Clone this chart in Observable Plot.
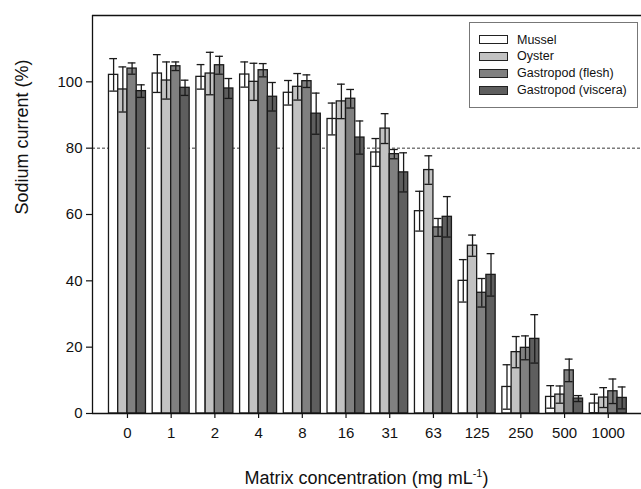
<!DOCTYPE html>
<html>
<head>
<meta charset="utf-8">
<script src="https://cdn.jsdelivr.net/npm/d3@7"></script>
<script src="https://cdn.jsdelivr.net/npm/@observablehq/plot@0.6"></script>
<style>
  html, body { margin: 0; padding: 0; background: #fff; }
  #wrap { position: relative; width: 641px; height: 489px; font-family: "Liberation Sans", Arial, sans-serif; }
  #xtitle { position: absolute; left: 92px; width: 549px; top: 468px; text-align: center; font-size: 18px; color: #111; }
  #xtitle sup { font-size: 11px; vertical-align: 0; position: relative; top: -7px; }
  #legend { position: absolute; left: 469px; top: 22px; width: 167px; height: 84px; border: 1px solid #777; background: #fff; font-size: 12.5px; color: #111; }
  .row { position: absolute; left: 9px; height: 17px; display: flex; align-items: center; }
  .sw { width: 27px; height: 7px; border: 1px solid #222; margin-right: 9px; }
</style>
</head>
<body>
<div id="wrap"></div>
<script>
const concentrations = ["0","1","2","4","8","16","31","63","125","250","500","1000"];
const seriesNames = ["Mussel","Oyster","Gastropod (flesh)","Gastropod (viscera)"];
const seriesColors = ["#ffffff","#c2c2c2","#808080","#5e5e5e"];
const mussel    = [102.1,102.5,101.5,102.2,96.7,88.8,78.7,61.0,40.0,8.0,5.0,3.0];
const musselSD  = [4.9,5.7,3.7,3.8,3.7,4.8,4.2,6.0,6.4,6.7,3.4,2.8];
const oyster    = [97.7,100.4,102.5,100.0,98.5,94.1,85.9,73.4,50.6,18.5,5.7,4.8];
const oysterSD  = [6.8,5.6,6.4,5.6,4.0,5.2,4.5,4.3,3.2,4.7,2.6,3.0];
const flesh     = [104.0,104.7,105.0,103.5,100.2,94.9,78.2,56.1,36.4,19.8,13.0,6.7];
const fleshSD   = [1.7,1.3,2.7,2.0,1.9,2.8,1.4,2.7,4.3,3.6,3.4,3.7];
const viscera   = [97.2,98.2,98.0,95.5,90.4,83.2,72.7,59.3,41.8,22.5,4.5,4.7];
const visceraSD = [1.9,2.3,3.0,4.3,6.2,5.0,5.9,6.1,6.4,7.3,0.9,3.3];
const yTicks = [0,20,40,60,80,100];
const threshold = 80;

const values = [mussel, oyster, flesh, viscera];
const sds = [musselSD, oysterSD, fleshSD, visceraSD];
const groupWidth = 0.846;
const barW = groupWidth / 4;

const data = [];
concentrations.forEach((c, i) => {
  seriesNames.forEach((s, k) => {
    const x1 = i - groupWidth / 2 + k * barW;
    data.push({
      conc: c, series: s, k,
      x1, x2: x1 + barW, xc: x1 + barW / 2,
      capL: x1 + barW * 0.08, capR: x1 + barW * 0.92,
      v: values[k][i], lo: values[k][i] - sds[k][i], hi: values[k][i] + sds[k][i]
    });
  });
});

const chart = Plot.plot({
  width: 641,
  height: 489,
  marginLeft: 92,
  marginRight: 0,
  marginTop: 15,
  marginBottom: 76,
  style: { fontFamily: "Liberation Sans, Arial, sans-serif", background: "#fff", color: "#111" },
  x: { type: "linear", domain: [-0.8, 11.76] },
  y: { domain: [0, 120] },
  marks: [
    Plot.ruleY([threshold], { stroke: "#222", strokeWidth: 0.9, strokeDasharray: "3,2" }),
    Plot.rectY(data, { x1: "x1", x2: "x2", y1: 0, y2: "v", fill: d => seriesColors[d.k], stroke: "#1a1a1a", strokeWidth: 1.3 }),
    Plot.ruleX(data, { x: "xc", y1: "lo", y2: "hi", stroke: "#1a1a1a", strokeWidth: 1.3 }),
    Plot.ruleY(data, { y: "hi", x1: "capL", x2: "capR", stroke: "#1a1a1a", strokeWidth: 1.3 }),
    Plot.ruleY(data, { y: "lo", x1: "capL", x2: "capR", stroke: "#1a1a1a", strokeWidth: 1.3 }),
    Plot.ruleX([-0.8], { y1: 0, y2: 120, stroke: "#111", strokeWidth: 1.3 }),
    Plot.ruleY([0, 120], { stroke: "#111", strokeWidth: 1.3 }),
    Plot.axisY({ ticks: yTicks, tickSize: 6, tickPadding: 4, fontSize: 15, label: null, stroke: "#111", strokeWidth: 1.2 }),
    Plot.axisX({ ticks: d3.range(concentrations.length), tickFormat: i => concentrations[i], tickSize: 5, tickPadding: 9, fontSize: 15, label: null, stroke: "#111", strokeWidth: 1.2 }),
    Plot.text(["Sodium current (%)"], { frameAnchor: "left", rotate: -90, dx: -70, fontSize: 18, fill: "#111" })
  ]
});

const wrap = document.getElementById("wrap");
wrap.appendChild(chart);

const xt = document.createElement("div");
xt.id = "xtitle";
xt.innerHTML = "Matrix concentration (mg mL<sup>-1</sup>)";
wrap.appendChild(xt);

const lg = document.createElement("div");
lg.id = "legend";
seriesNames.forEach((s, k) => {
  const r = document.createElement("div");
  r.className = "row";
  r.style.top = (8 + k * 16.9) + "px";
  const sw = document.createElement("div");
  sw.className = "sw";
  sw.style.background = seriesColors[k];
  const t = document.createElement("span");
  t.textContent = s;
  r.appendChild(sw); r.appendChild(t);
  lg.appendChild(r);
});
wrap.appendChild(lg);
</script>
</body>
</html>
